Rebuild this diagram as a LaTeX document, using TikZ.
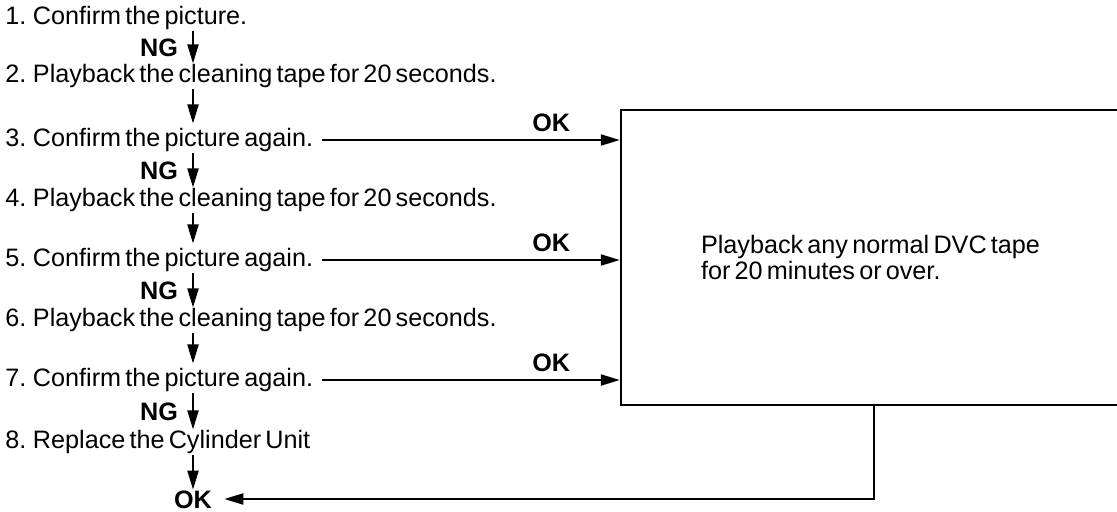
\documentclass[tikz,border=0pt]{standalone}
\usepackage{fontspec}
\setmainfont{Liberation Sans}[WordSpace=0.6]
\usetikzlibrary{positioning, arrows.meta, calc}

\begin{document}
\begin{tikzpicture}[x=0.5pt, y=-0.5pt]
    \tikzset{stp/.style={inner sep=0pt, anchor=west, text height=9.5pt, text depth=2.7pt, font=\fontsize{12.6}{11}\selectfont},
      lbl/.style={inner sep=0pt, text height=9pt, text depth=0pt, font=\fontsize{12.6}{11}\selectfont\bfseries},
      arr/.style={-{Triangle[length=9.5pt,width=5.5pt]}, line width=1pt},
      box/.style={draw, line width=1.2pt, minimum width=249.5pt, minimum height=147.5pt, align=left, font=\fontsize{12.6}{11}\selectfont}}
    \clip (0,0) rectangle (1117,511);
    \coordinate (ax) at (193,0);
    \node[stp] (s1) at (5,18) {1. Confirm the picture.};
    \node[stp, below=29pt of s1.west, anchor=west] (s2) {2. Playback the cleaning tape for 20 seconds.};
    \node[stp, below=32pt of s2.west, anchor=west] (s3) {3. Confirm the picture again.};
    \node[stp, below=30pt of s3.west, anchor=west] (s4) {4. Playback the cleaning tape for 20 seconds.};
    \node[stp, below=30pt of s4.west, anchor=west] (s5) {5. Confirm the picture again.};
    \node[stp, below=30pt of s5.west, anchor=west] (s6) {6. Playback the cleaning tape for 20 seconds.};
    \node[stp, below=30pt of s6.west, anchor=west] (s7) {7. Confirm the picture again.};
    \node[stp, below=31pt of s7.west, anchor=west] (s8) {8. Replace the Cylinder Unit};
    \node[lbl, inner xsep=6pt] (ok) at ($(s8.west -| ax)+(0,57)$) {OK};
    \node[box] (box) at (870.5,257.5) {Playback any normal DVC tape\\for 20 minutes or over.};
    % NG branches and plain steps
    \foreach \a/\b in {s1/s2, s3/s4, s5/s6, s7/s8}
      \draw[arr] (\a.south -| ax) -- (\b.north -| ax) node[lbl, midway, left=7pt] {NG};
    \foreach \a/\b in {s2/s3, s4/s5, s6/s7}
      \draw[arr, shorten >=2pt] (\a.south -| ax) -- (\b.north -| ax);
    \draw[arr] (s8.south -| ax) -- (ok.north);
    % OK branches into the box
    \foreach \s in {s3, s5, s7}
      \draw[arr] ([xshift=4pt]\s.east) -- (\s.east -| box.west) node[lbl, pos=0.77, above=4pt] {OK};
    \draw[arr] ([xshift=1.5pt]box.south) |- (ok.east);
\end{tikzpicture}
\end{document}
